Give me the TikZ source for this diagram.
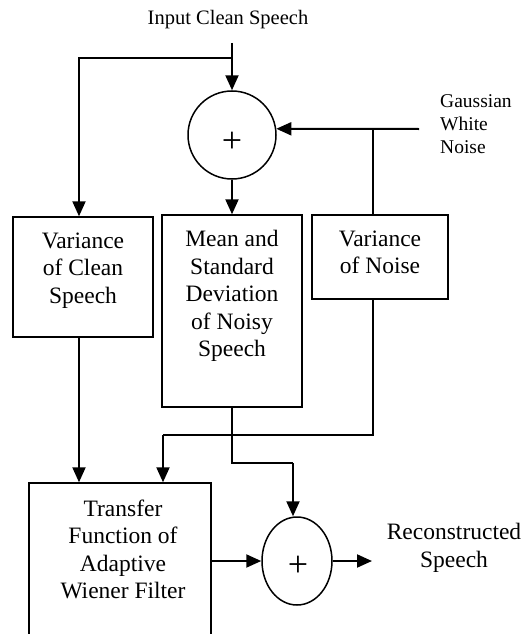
\documentclass[tikz,border=0pt]{standalone}
\usepackage{fontspec}
\setmainfont{Liberation Serif}
\usetikzlibrary{arrows.meta,shapes.geometric,positioning}

\begin{document}
\begin{tikzpicture}[x=1pt,y=-1pt,
  block/.style={draw,line width=1.4pt,inner sep=0pt},
  blocktext/.style={align=center,inner sep=0pt,font=\fontsize{23.5}{27.5}\selectfont},
  sidetext/.style={inner sep=0pt,font=\fontsize{19.5}{23}\selectfont},
  sumnode/.style={draw,line width=1.5pt,inner sep=0pt},
  plussign/.style={inner sep=0pt,font=\fontsize{36}{36}\selectfont},
  arr/.style={line width=2pt,-{Triangle[length=15pt,width=13pt]}},
  wire/.style={line width=1.2pt}]

\useasboundingbox (0,0) rectangle (524,634);

\node[sidetext,font=\fontsize{20.5}{24}\selectfont] (title) at (228,20) {Input Clean Speech};

% adder for the noise
\node[sumnode,circle,minimum size=88pt] (sum1) at (232,135) {};
\node[plussign] (plus1) at (232,142) {+};

\node[sidetext,anchor=west,align=left] (gwn) at (440,124) {Gaussian\\White\\Noise};

% estimation blocks
\node[block,minimum width=140pt,minimum height=120pt] (varclean) at (83,277) {};
\node[blocktext,below=16pt of varclean.north] (varcleantxt) {Variance\\of Clean\\Speech};

\node[block,minimum width=140pt,minimum height=192pt] (meanstd) at (232,311) {};
\node[blocktext,below=16pt of meanstd.north] (meanstdtxt) {Mean and\\Standard\\Deviation\\of Noisy\\Speech};

\node[block,minimum width=136pt,minimum height=84pt] (varnoise) at (380,257) {};
\node[blocktext,below=16pt of varnoise.north] (varnoisetxt) {Variance\\of Noise};

% filter and output adder
\node[block,minimum width=182pt,minimum height=166pt] (filt) at (120,566) {};
\node[blocktext,below=17pt of filt.north,xshift=3pt] (filttxt) {Transfer\\Function of\\Adaptive\\Wiener Filter};

\node[sumnode,ellipse,minimum width=70pt,minimum height=88pt] (sum2) at (297,561) {};
\node[plussign] (plus2) at (298,566) {+};

\node[blocktext] (recon) at (454,548) {Reconstructed\\Speech};

\path
  (232,43) coordinate(in)
  (232,58) coordinate(split)
  (419,129) coordinate(noise)
  (373,129) coordinate(nsplit)
  (163,435) coordinate(nturn)
  (293,463) coordinate(mturn)
  (372,561) coordinate(out);

\draw[arr] (in) -- (sum1);
\draw[arr] (split) -| ([xshift=-4pt]varclean.north);
\draw[arr] (noise) -- (sum1.8);
\draw[wire] (nsplit) -- (nsplit |- varnoise.north);
\draw[arr] (sum1) -- (meanstd);

\draw[arr] ([xshift=-4pt]varclean.south) -- ([xshift=-4pt]varclean.south |- filt.north);
\draw[wire] ([xshift=-7pt]varnoise.south) |- (nturn);
\draw[arr] (nturn) -- (nturn |- filt.north);
\draw[wire] (meanstd.south) |- (mturn);
\draw[arr] (mturn) -- (mturn |- sum2.north);

\draw[arr] (filt.east |- sum2.west) -- (sum2.west);
\draw[arr] (sum2.east) -- (out);
\end{tikzpicture}
\end{document}
